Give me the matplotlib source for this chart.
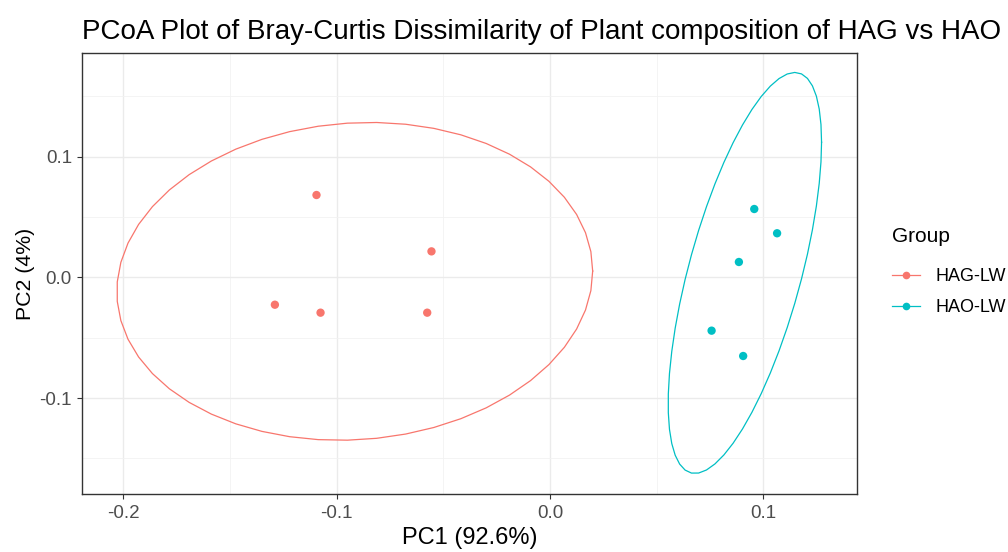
import numpy as np
import matplotlib
matplotlib.use("Agg")
import matplotlib.pyplot as plt
from matplotlib.lines import Line2D

plt.rcParams['font.family'] = ['Liberation Sans', 'DejaVu Sans']

groups = ["HAG-LW", "HAO-LW"]
colors = ["#F8766D", "#00BFC4"]
hag_pc1 = [-0.1094, -0.0555, -0.1289, -0.1075, -0.0575]
hag_pc2 = [0.0682, 0.0215, -0.0227, -0.0293, -0.0293]
hao_pc1 = [0.0958, 0.1065, 0.0886, 0.0758, 0.0906]
hao_pc2 = [0.0566, 0.0365, 0.0127, -0.0442, -0.0652]


def cov_trob(pts, nu=5, maxit=25, tol=0.01):
    # same as MASS::cov.trob, used by ggplot's stat_ellipse
    n, p = pts.shape
    loc = pts.mean(axis=0)
    w = np.ones(n)
    for _ in range(maxit):
        w0 = w
        X = pts - loc
        u, d, vt = np.linalg.svd(np.sqrt(w / w.sum())[:, None] * X, full_matrices=False)
        wX = X @ vt.T / d
        Q = (wX ** 2).sum(axis=1)
        w = (nu + p) / (nu + Q)
        loc = (w[:, None] * pts).sum(axis=0) / w.sum()
        if np.all(np.abs(w - w0) < tol):
            break
    sX = np.sqrt(w)[:, None] * X
    return loc, sX.T @ sX / n


def ellipse(x, y, level=0.95, segments=51):
    pts = np.column_stack([x, y])
    center, shape = cov_trob(pts)
    dfd = len(x) - 1
    qf = dfd / 2 * ((1 - level) ** (-2 / dfd) - 1)  # F quantile for dfn=2
    radius = np.sqrt(2 * qf)
    ang = np.linspace(0, 2 * np.pi, segments + 1)
    circ = np.column_stack([np.cos(ang), np.sin(ang)])
    U = np.linalg.cholesky(shape).T
    e = center + radius * circ @ U
    return e[:, 0], e[:, 1]


fig = plt.figure(figsize=(10.08, 5.52), dpi=100)
ax = fig.add_axes([0.0818, 0.1045, 0.7687, 0.80])

data = [(hag_pc1, hag_pc2), (hao_pc1, hao_pc2)]
for (xs, ys), c in zip(data, colors):
    ex, ey = ellipse(xs, ys)
    ax.plot(ex, ey, color=c, lw=0.9, zorder=3)
    ax.scatter(xs, ys, s=36, color=c, edgecolors='none', zorder=4)

ax.set_xlim(-0.2191, 0.1441)
ax.set_ylim(-0.1798, 0.1861)
ax.set_xticks([-0.2, -0.1, 0.0, 0.1])
ax.set_xticklabels(["-0.2", "-0.1", "0.0", "0.1"])
ax.set_yticks([-0.1, 0.0, 0.1])
ax.set_yticklabels(["-0.1", "0.0", "0.1"])
ax.set_xticks([-0.15, -0.05, 0.05], minor=True)
ax.set_yticks([-0.15, -0.05, 0.05, 0.15], minor=True)
ax.grid(True, which='major', color='#EBEBEB', lw=1.0, zorder=0)
ax.grid(True, which='minor', color='#F2F2F2', lw=0.6, zorder=0)
ax.set_axisbelow(True)
ax.tick_params(which='major', length=3.6, width=0.8, color='#333333',
               labelsize=13.5, labelcolor='#4D4D4D', pad=4)
ax.tick_params(which='minor', length=0)
for s in ax.spines.values():
    s.set_color('#333333')
    s.set_linewidth(1.0)

ax.set_xlabel("PC1 (92.6%)", fontsize=17, labelpad=4)
ax.set_ylabel("PC2 (4%)", fontsize=15.3, labelpad=3)
ax.set_title("PCoA Plot of Bray-Curtis Dissimilarity of Plant composition of HAG vs HAO",
             fontsize=20, loc='left', x=0.0, pad=10)

handles = [Line2D([0], [0], color=c, lw=0.9, marker='o', markersize=5.5,
                  markeredgecolor='none') for c in colors]
leg = fig.legend(handles, groups, title="Group", loc='upper left',
                 bbox_to_anchor=(888 / 1008, 1 - 223 / 552), frameon=False,
                 fontsize=13, title_fontsize=15, handlelength=1.55,
                 handletextpad=0.9, labelspacing=0.8, borderpad=0.2,
                 borderaxespad=0)
leg._legend_box.align = "left"
leg._legend_box.sep = 16  # more room under the legend title

fig.savefig("out.png", dpi=100)
